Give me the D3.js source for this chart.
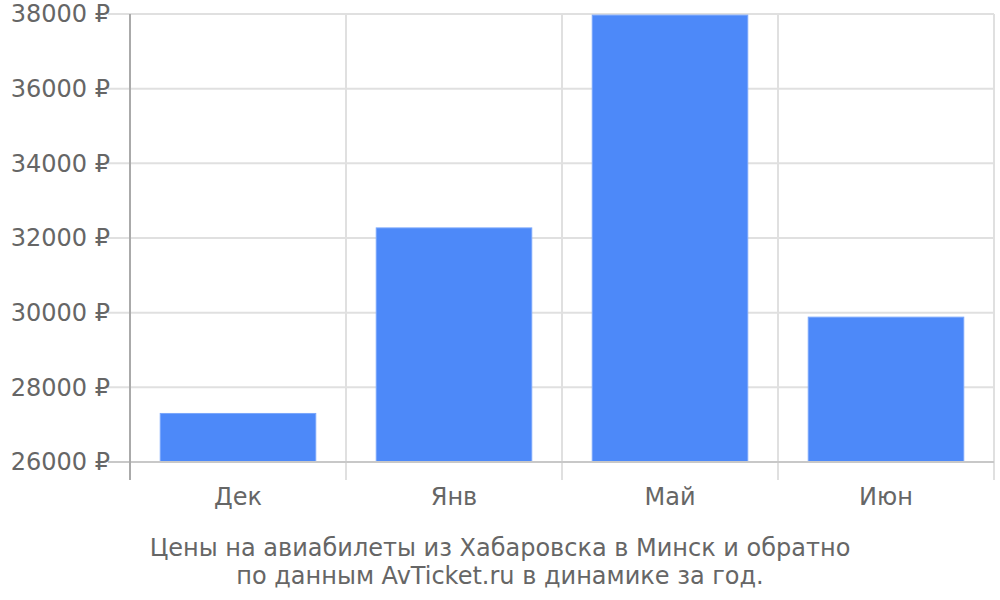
<!DOCTYPE html>
<html><head><meta charset="utf-8">
<script src="https://cdn.jsdelivr.net/npm/d3@7"></script>
<style>body{margin:0;background:#fff}text{font-family:"DejaVu Sans",sans-serif}</style>
</head><body><svg id="c" width="1000" height="600"></svg>
<script>
const categories = ["Дек","Янв","Май","Июн"];
const prices = [27300, 32270, 37970, 29880];
const yTicks = [26000,28000,30000,32000,34000,36000,38000];
const titleLines = ["Цены на авиабилеты из Хабаровска в Минск и обратно","по данным AvTicket.ru в динамике за год."];

const svg = d3.select("#c");
const L=130,R=994,T=14,B=462;
const x = d3.scaleBand().domain(categories).range([L,R]).paddingInner(0.28).paddingOuter(0.14);
const xb = d3.scaleBand().domain(categories).range([L,R]);
const y = d3.scaleLinear().domain([26000,38000]).range([B,T]);

svg.append("g").selectAll("line").data(yTicks).join("line")
  .attr("x1",108).attr("x2",R).attr("y1",d=>y(d)).attr("y2",d=>y(d))
  .attr("stroke",d=>d===26000?"#c8c8c8":"#e0e0e0").attr("stroke-width",2);
svg.append("g").selectAll("line").data(categories.slice(1)).join("line")
  .attr("x1",d=>xb(d)).attr("x2",d=>xb(d)).attr("y1",T).attr("y2",480)
  .attr("stroke","#e0e0e0").attr("stroke-width",2);
svg.append("line").attr("x1",R).attr("x2",R).attr("y1",T).attr("y2",480).attr("stroke","#e0e0e0").attr("stroke-width",2);
svg.append("g").selectAll("rect").data(prices).join("rect")
  .attr("x",(d,i)=>x(categories[i])).attr("width",x.bandwidth())
  .attr("y",d=>y(d)).attr("height",d=>B-y(d))
  .attr("fill","#4d89f9").attr("stroke","#7aa7fb").attr("stroke-width",1);
svg.append("line").attr("x1",L).attr("x2",R).attr("y1",B).attr("y2",B).attr("stroke","#c8c8c8").attr("stroke-width",2);
svg.append("line").attr("x1",L).attr("x2",L).attr("y1",T).attr("y2",480).attr("stroke","#aaaaaa").attr("stroke-width",2);
svg.append("g").selectAll("text").data(yTicks).join("text")
  .attr("x",110).attr("y",d=>y(d)).attr("dy","0.35em").attr("text-anchor","end")
  .attr("font-size",24).attr("fill","#666").text(d=>d+" ₽");
svg.append("g").selectAll("text").data(categories).join("text")
  .attr("x",d=>xb(d)+xb.bandwidth()/2).attr("y",505).attr("text-anchor","middle")
  .attr("font-size",24).attr("fill","#666").text(d=>d);
svg.append("g").selectAll("text").data(titleLines).join("text")
  .attr("x",500).attr("y",(d,i)=>556+i*28).attr("text-anchor","middle")
  .attr("font-size",24).attr("fill","#666").text(d=>d);
</script></body></html>
